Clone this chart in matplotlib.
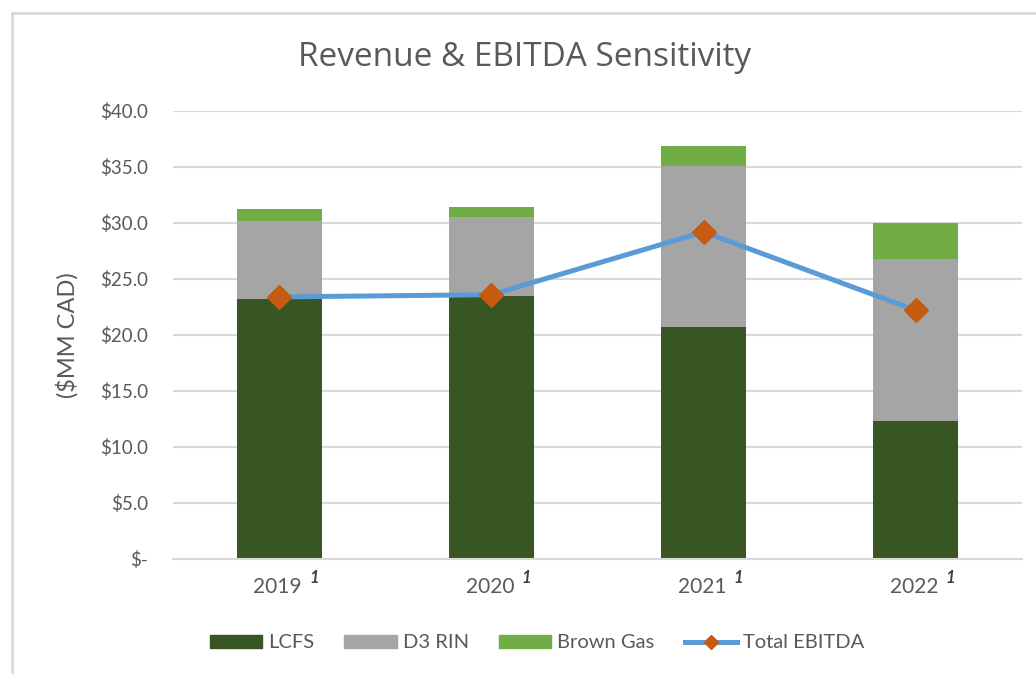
import matplotlib
matplotlib.use("Agg")
import matplotlib.pyplot as plt
from matplotlib.patches import Rectangle
from matplotlib.lines import Line2D
import numpy as np

years = ["2019", "2020", "2021", "2022"]
lcfs = [23.2, 23.5, 20.7, 12.3]
d3_rin = [7.0, 7.0, 14.4, 14.5]
brown_gas = [1.05, 0.9, 1.8, 3.2]
total_ebitda = [23.4, 23.6, 29.2, 22.2]
ytick_vals = [0, 5, 10, 15, 20, 25, 30, 35, 40]
ytick_labels = ["$-", "$5.0", "$10.0", "$15.0", "$20.0", "$25.0", "$30.0", "$35.0", "$40.0"]

C_LCFS = "#375623"
C_D3 = "#A5A5A5"
C_BROWN = "#70AD47"
C_LINE = "#5B9BD5"
C_MARK = "#C55A11"
C_TEXT = "#595959"
C_GRID = "#D9D9D9"

plt.rcParams['font.family'] = ['Lato', 'DejaVu Sans']

W, H = 1036, 674
fig = plt.figure(figsize=(W / 100, H / 100), dpi=100)
fig.patch.set_facecolor("white")

# chart-area border
fig.patches.append(Rectangle((12 / W, -0.1), 1.2, (H - 13) / H + 0.1,
                             transform=fig.transFigure, fill=False,
                             edgecolor="#D9D9D9", linewidth=2.0, zorder=0))

ax = fig.add_axes([173 / W, (H - 559) / H, (1022 - 173) / W, (559 - 111) / H])
x = np.arange(len(years))
width = 0.4
ax.bar(x, lcfs, width, color=C_LCFS, label="LCFS", zorder=2)
bottom2 = np.array(lcfs)
ax.bar(x, d3_rin, width, bottom=bottom2, color=C_D3, label="D3 RIN", zorder=2)
bottom3 = bottom2 + np.array(d3_rin)
ax.bar(x, brown_gas, width, bottom=bottom3, color=C_BROWN, label="Brown Gas", zorder=2)
ax.plot(x, total_ebitda, color=C_LINE, linewidth=3.6, marker="D",
        markersize=12, markerfacecolor=C_MARK, markeredgecolor=C_MARK,
        label="Total EBITDA", zorder=3)

ax.set_xlim(-0.5, len(years) - 0.5)
ax.set_ylim(0, 40)
ax.set_yticks(ytick_vals)
ax.set_yticklabels(ytick_labels)
ax.yaxis.grid(True, color=C_GRID, linewidth=1.5, zorder=0)
ax.set_axisbelow(True)
for s in ["top", "right", "left"]:
    ax.spines[s].set_visible(False)
ax.spines["bottom"].set_color(C_GRID)
ax.spines["bottom"].set_linewidth(1.5)
ax.tick_params(axis="y", length=0, pad=18, labelsize=13.5, labelcolor=C_TEXT)
ax.tick_params(axis="x", length=0, labelsize=14, labelcolor=C_TEXT)
ax.set_xticks(x)
ax.set_xticklabels(["" for _ in years])

trans = ax.get_xaxis_transform()
for i, yr in enumerate(years):
    ax.annotate(yr, xy=(i, 0), xycoords=trans, xytext=(-1, -13),
                textcoords="offset points", ha="center", va="top",
                fontsize=15, color=C_TEXT)
    ax.annotate("1", xy=(i, 0), xycoords=trans, xytext=(25, -8),
                textcoords="offset points", ha="center", va="top",
                fontsize=12, color="#404040", fontstyle="italic",
                fontweight="bold")

ax.set_ylabel("($MM CAD)", fontsize=17, color=C_TEXT, labelpad=15)

fig.text(525 / W, 1 - 57 / H, "Revenue & EBITDA Sensitivity", ha="center",
         va="center", fontsize=24, color=C_TEXT, family=["Open Sans", "DejaVu Sans"])

handles = [Rectangle((0, 0), 1, 1, color=C_LCFS),
           Rectangle((0, 0), 1, 1, color=C_D3),
           Rectangle((0, 0), 1, 1, color=C_BROWN),
           Line2D([], [], color=C_LINE, linewidth=3.6, marker="D", markersize=7,
                  markerfacecolor=C_MARK, markeredgecolor=C_MARK)]
fig.legend(handles, ["LCFS", "D3 RIN", "Brown Gas", "Total EBITDA"],
           loc="center", bbox_to_anchor=(537 / W, 1 - 643 / H), ncol=4,
           frameon=False, fontsize=14.5, handlelength=2.6, handleheight=0.6,
           handletextpad=0.3, columnspacing=1.5, labelcolor=C_TEXT)

fig.savefig("out.png", dpi=100, facecolor="white")
